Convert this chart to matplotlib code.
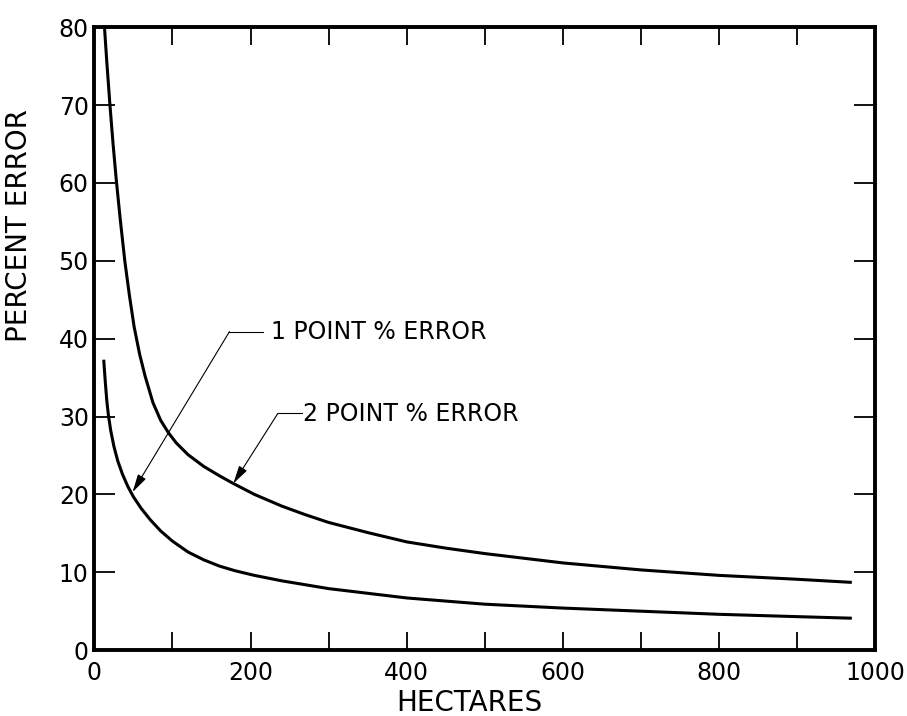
import numpy as np
import matplotlib
matplotlib.use('Agg')
from matplotlib import pyplot as plt

# 2 point % error (upper curve)
ha_2pt = [13, 16, 20, 24, 28, 33, 39, 45, 51, 58, 65, 75, 85, 95, 105, 120, 140, 160, 178,
          205, 240, 270, 300, 350, 400, 450, 500, 600, 700, 800, 900, 970]
err_2pt = [80, 75.5, 70, 65, 60.5, 55.5, 50, 45.5, 41.5, 38, 35.2, 31.8, 29.5, 27.9, 26.6, 25.1, 23.6, 22.4, 21.4,
           20.0, 18.5, 17.4, 16.4, 15.1, 13.9, 13.1, 12.4, 11.2, 10.3, 9.6, 9.1, 8.7]

# 1 point % error (lower curve)
ha_1pt = [12, 14, 16, 18, 21, 25, 30, 36, 43, 50, 60, 72, 85, 100, 120, 140, 160, 180,
          205, 240, 300, 350, 400, 500, 600, 700, 800, 900, 970]
err_1pt = [37.3, 34.5, 32, 30.2, 28.2, 26.2, 24.3, 22.6, 21.0, 19.7, 18.2, 16.7, 15.3, 14.0, 12.6, 11.6, 10.8, 10.2,
           9.6, 8.9, 7.9, 7.3, 6.7, 5.9, 5.4, 5.0, 4.6, 4.3, 4.1]

xticks = [0, 200, 400, 600, 800, 1000]
yticks = [0, 10, 20, 30, 40, 50, 60, 70, 80]

plt.rcParams['font.family'] = ['DejaVu Sans']

fig = plt.figure(figsize=(9.07, 7.16), dpi=100)
ax = fig.add_axes([0.104, 0.092, 0.861, 0.870])

ax.plot(ha_2pt, err_2pt, color='black', lw=2.2, solid_joinstyle='round', solid_capstyle='butt')
ax.plot(ha_1pt, err_1pt, color='black', lw=2.2, solid_joinstyle='round', solid_capstyle='butt')

ax.set_xlim(0, 1000)
ax.set_ylim(0, 80)
ax.set_xticks(xticks)
ax.set_xticks(range(0, 1001, 100), minor=True)
ax.set_yticks(yticks)
ax.tick_params(which='both', direction='in', top=True, right=True, width=1.3, labelsize=17)
ax.tick_params(axis='x', which='both', length=13, pad=8)
ax.tick_params(axis='y', length=15, pad=4)
for s in ax.spines.values():
    s.set_linewidth(2.8)

ax.set_xlabel('HECTARES', fontsize=20)
ax.set_ylabel('PERCENT ERROR', fontsize=20)
ax.xaxis.set_label_coords(0.480, -0.062)
ax.yaxis.set_label_coords(-0.078, 0.682)

# leaders
arrow = dict(arrowstyle='-|>,head_length=1.1,head_width=0.28', color='black', lw=0.8,
             shrinkA=0, shrinkB=0)
ax.plot([173, 216], [40.9, 40.9], color='black', lw=0.8)
ax.annotate('', xy=(49, 20.3), xytext=(173, 40.9), arrowprops=arrow)
ax.text(226, 40.8, '1 POINT % ERROR', fontsize=17, va='center', ha='left')

ax.plot([235, 266], [30.4, 30.4], color='black', lw=0.8)
ax.annotate('', xy=(178, 21.4), xytext=(235, 30.4), arrowprops=arrow)
ax.text(267, 30.3, '2 POINT % ERROR', fontsize=17, va='center', ha='left')

fig.savefig('out.png', dpi=100)
